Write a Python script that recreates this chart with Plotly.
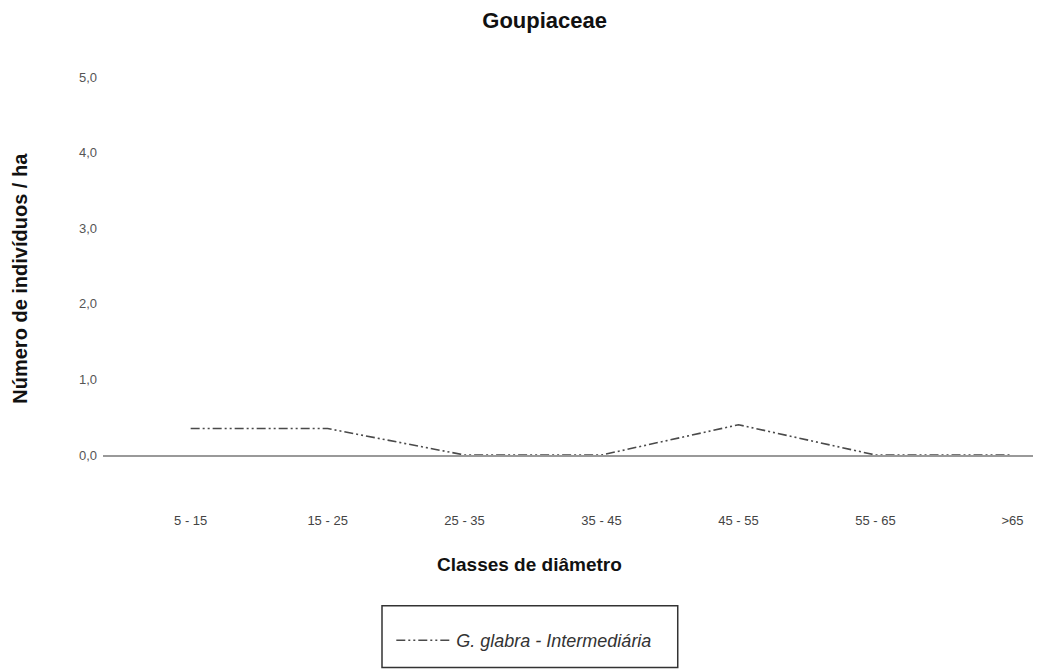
import plotly.graph_objects as go

categories = ["5 - 15", "15 - 25", "25 - 35", "35 - 45", "45 - 55", "55 - 65", ">65"]
values = [0.35, 0.35, 0.0, 0.0, 0.4, 0.0, 0.0]
series_name = "<i>G. glabra - Intermediária</i>"
y_ticks = [0, 1, 2, 3, 4, 5]
y_ticktext = ["0,0", "1,0", "2,0", "3,0", "4,0", "5,0"]
title_text = "<b>Goupiaceae</b>"
x_title = "<b>Classes de diâmetro</b>"
y_title = "<b>Número de indivíduos / ha</b>"

FONT = "Liberation Sans, Arial, sans-serif"

fig = go.Figure()
fig.add_trace(go.Scatter(
    x=categories, y=values, mode="lines", name=series_name,
    line=dict(color="#4a4a4a", width=1.6, dash="9px,3px,2px,3px,2px,3px"),
    showlegend=True,
))

fig.update_layout(
    width=1036, height=662,
    margin=dict(l=95, r=11, t=69, b=212),
    paper_bgcolor="white", plot_bgcolor="white",
    font=dict(family=FONT, color="#333"),
    title=dict(text=title_text, x=0.518, xanchor="center", xref="container",
               y=0.981, yanchor="middle", yref="container",
               font=dict(size=22, color="#111", family=FONT)),
    xaxis=dict(
        type="category", range=[-0.64, 6.15],
        showgrid=False, zeroline=False,
        showline=True, linecolor="#999", linewidth=2,
        ticks="", ticklabelstandoff=52, tickfont=dict(size=13, color="#444"),
    ),
    yaxis=dict(
        range=[0, 5], tickvals=y_ticks, ticktext=y_ticktext,
        showgrid=False, zeroline=False, showline=False, ticks="",
        ticklabelstandoff=5,
        tickfont=dict(size=13, color="#555"),
    ),
    legend=dict(
        x=0.31, y=-0.491, xanchor="left", yanchor="middle",
        orientation="h", bgcolor="rgba(0,0,0,0)", borderwidth=0,
        itemwidth=55,
        font=dict(size=18, color="#333"),
    ),
    annotations=[
        dict(text=x_title, xref="paper", yref="paper", x=0.459, y=-0.29,
             xanchor="center", yanchor="middle", showarrow=False,
             font=dict(size=19, color="#111")),
        dict(text=y_title, xref="paper", yref="paper", x=-0.089, y=0.467,
             xanchor="center", yanchor="middle", showarrow=False, textangle=-90,
             font=dict(size=20, color="#111")),
    ],
    shapes=[dict(type="rect", xref="paper", yref="paper",
                 x0=0.300, x1=0.618, y0=-0.562, y1=-0.399,
                 line=dict(color="#333", width=1.5), fillcolor="rgba(0,0,0,0)")],
)

fig.write_html("out.html")
